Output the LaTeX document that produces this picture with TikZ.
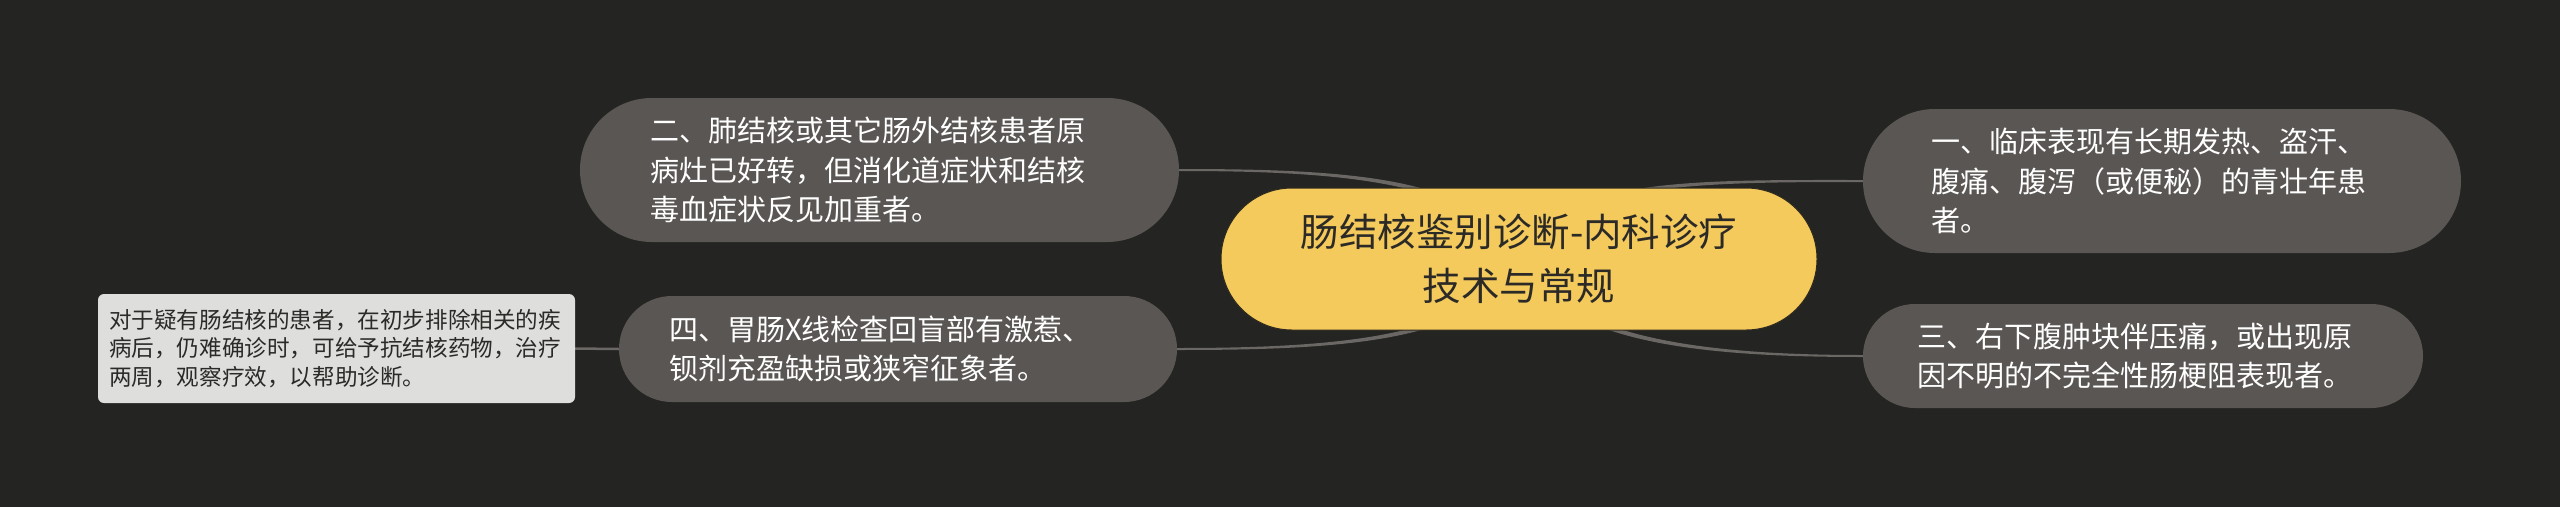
\documentclass[tikz,border=0pt]{standalone}
\usepackage{fontspec}
\setmainfont{Noto Sans CJK SC}
\usetikzlibrary{calc}
\pgfdeclarelayer{back}
\pgfdeclarelayer{canvas}
\pgfsetlayers{canvas,back,main}
\definecolor{bgc}{HTML}{242422}
\definecolor{topicfill}{HTML}{5A5654}
\definecolor{rootfill}{HTML}{F4CA5D}
\definecolor{rootedge}{HTML}{2E2A1E}
\definecolor{leaffill}{HTML}{DEDEDD}
\definecolor{linkc}{HTML}{6A6764}
\definecolor{darktext}{HTML}{2B2A27}
% tapered connector from a child anchor to the root centre
\newcommand\taperlink[4]{%
  \fill[linkc] ($(#1)+(0,-1)$) .. controls +(#2,0) and +(#3,#4) .. ($(root.center)+(0,-3)$)
    -- ($(root.center)+(0,3)$) .. controls +(#3,#4) and +(#2,0) .. ($(#1)+(0,1)$) -- cycle;}
\begin{document}
\begin{tikzpicture}[x=1pt,y=-1pt,
  topic/.style={fill=topicfill, text=white, align=left, inner sep=0pt,
    font=\fontsize{29}{39.5}\selectfont},
  rootbox/.style={fill=rootfill, draw=rootedge, line width=1pt, text=darktext,
    align=center, inner sep=0pt, minimum width=596pt, minimum height=142pt,
    rounded corners=70.9pt, font=\fontsize{38.5}{54}\selectfont},
  leafbox/.style={fill=leaffill, text=darktext, align=left, inner sep=0pt,
    rounded corners=6pt, font=\fontsize{22.6}{28.5}\selectfont},
  straightlink/.style={draw=linkc, line width=2.5pt}]
\useasboundingbox (0,0) rectangle (2560,507);
\begin{pgfonlayer}{canvas}
  \fill[bgc] (0,0) rectangle (2560,507);
\end{pgfonlayer}

\node[rootbox] (root) at (1519,259) {肠结核鉴别诊断-内科诊疗\\技术与常规};

\node[topic, minimum width=599pt, minimum height=144pt, rounded corners=71.9pt, text width=458pt]
  (n2) at (879.5,170) {二、肺结核或其它肠外结核患者原\\病灶已好转，但消化道症状和结核\\毒血症状反见加重者。};

\node[topic, minimum width=558pt, minimum height=106pt, rounded corners=52.9pt, text width=458pt]
  (n4) at (898,349) {四、胃肠X线检查回盲部有激惹、\\钡剂充盈缺损或狭窄征象者。};

\node[topic, minimum width=598pt, minimum height=144pt, rounded corners=71.9pt, text width=462pt]
  (n1) at (2162,181) {一、临床表现有长期发热、盗汗、\\腹痛、腹泻（或便秘）的青壮年患\\者。};

\node[topic, minimum width=560pt, minimum height=104pt, rounded corners=51.9pt, text width=452pt]
  (n3) at (2143,356) {三、右下腹肿块伴压痛，或出现原\\因不明的不完全性肠梗阻表现者。};

\node[leafbox, minimum width=477pt, minimum height=109pt, text width=455pt]
  (leaf) at (336.5,348.5) {对于疑有肠结核的患者，在初步排除相关的疾\\病后，仍难确诊时，可给予抗结核药物，治疗\\两周，观察疗效，以帮助诊断。};

\begin{pgfonlayer}{back}
  \taperlink{n2.east}{171}{-39}{-79}
  \taperlink{n4.east}{171}{-39}{79}
  \taperlink{n1.west}{-171}{39}{-79}
  \taperlink{n3.west}{-171}{39}{79}
  \draw[straightlink] (leaf.east) -- (n4.west);
\end{pgfonlayer}
\end{tikzpicture}
\end{document}
